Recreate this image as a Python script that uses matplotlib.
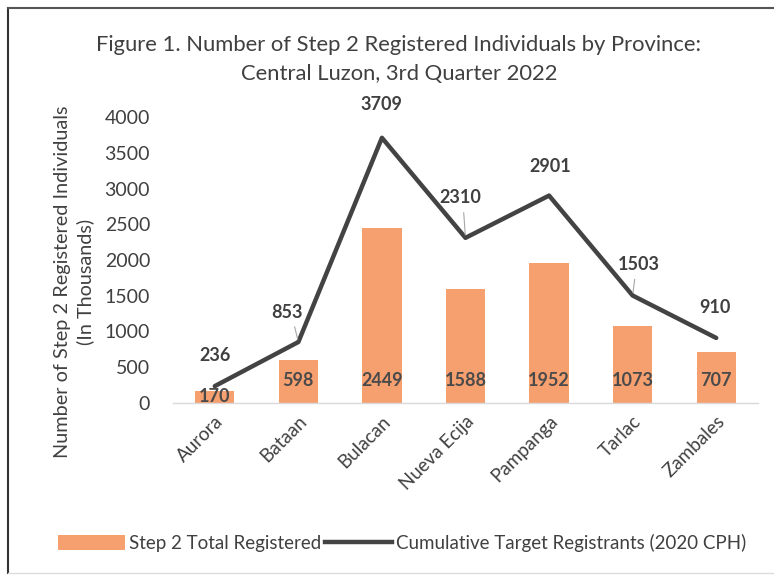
import matplotlib
matplotlib.use("Agg")
import matplotlib.pyplot as plt
from matplotlib.lines import Line2D
from matplotlib.patches import Patch
import numpy as np

provinces = ["Aurora", "Bataan", "Bulacan", "Nueva Ecija", "Pampanga", "Tarlac", "Zambales"]
registered = [170, 598, 2449, 1588, 1952, 1073, 707]
target = [236, 853, 3709, 2310, 2901, 1503, 910]
yticks = [0, 500, 1000, 1500, 2000, 2500, 3000, 3500, 4000]

plt.rcParams['font.family'] = ['Lato', 'DejaVu Sans']
W, H = 774, 577
DPI = 100
fig = plt.figure(figsize=(W / DPI, H / DPI), dpi=DPI)
fig.patch.set_facecolor("white")

BAR_C = "#F6A070"
LINE_C = "#434343"
TXT_C = "#404040"

ax = fig.add_axes([173 / W, 1 - 403 / H, (758 - 173) / W, (403 - 117) / H])
x = np.arange(len(provinces))
ax.bar(x, registered, width=0.47, color=BAR_C, zorder=2)
ax.plot(x, target, color=LINE_C, lw=3.2, solid_capstyle="round", zorder=3)

ax.set_xlim(-0.5, len(provinces) - 0.5)
ax.set_ylim(0, 4000)
ax.set_yticks(yticks)
ax.set_yticklabels([str(v) for v in yticks], fontsize=14, color=TXT_C)
ax.set_xticks(x)
ax.set_xticklabels(provinces, rotation=45, ha="right", rotation_mode="anchor",
                   fontsize=13.5, color=TXT_C)
ax.tick_params(axis="both", length=0)
ax.tick_params(axis="y", pad=16.5)
ax.tick_params(axis="x", pad=7)
for s in ["top", "right", "left"]:
    ax.spines[s].set_visible(False)
ax.spines["bottom"].set_color("#d9d9d9")
ax.spines["bottom"].set_linewidth(1)

px = 72 / DPI  # points per pixel

# bar labels near base
for i, v in enumerate(registered):
    off = -6 if i == 0 else -22
    ax.annotate(str(v), xy=(i, 0), xytext=(0, -off * px), textcoords="offset points",
                ha="center", va="center", fontsize=13, fontweight="bold",
                color="#4a4a4a", zorder=4)

# line labels (pixel offsets from the point)
line_offsets = [(0, -31), (-11, -30), (-1, -33), (-5, -40), (1, -29), (6, -31), (-1, -30)]
leaders = [False, True, False, True, False, True, False]
for i, v in enumerate(target):
    dx, dy = line_offsets[i]
    ax.annotate(str(v), xy=(i, v), xytext=(dx * px, -dy * px), textcoords="offset points",
                ha="center", va="center", fontsize=13, fontweight="bold",
                color="#404040", zorder=4)
    if leaders[i]:
        ax.annotate("", xy=(i, v), xytext=(dx * px * 0.4, (-dy - 12) * px),
                    textcoords="offset points",
                    arrowprops=dict(arrowstyle="-", color="#a6a6a6", lw=0.8))

fig.text(399 / W, 1 - 45 / H, "Figure 1. Number of Step 2 Registered Individuals by Province:",
         ha="center", va="center", fontsize=15.8, color=TXT_C)
fig.text(399 / W, 1 - 74 / H, "Central Luzon, 3rd Quarter 2022",
         ha="center", va="center", fontsize=15.8, color=TXT_C)

fig.text(74 / W, 1 - 282 / H, "Number of Step 2 Registered Individuals\n(In Thousands)",
         rotation=90, ha="center", va="center", fontsize=14.3, color=TXT_C,
         linespacing=1.3)

handles = [Patch(facecolor=BAR_C, edgecolor="none"),
           Line2D([0], [0], color=LINE_C, lw=3.2)]
leg = fig.legend(handles, ["Step 2 Total Registered", "Cumulative Target Registrants (2020 CPH)"],
                 loc="center", bbox_to_anchor=(402 / W, 1 - 543 / H), ncol=2, frameon=False,
                 fontsize=13.5, handlelength=3.6, handleheight=0.8, handletextpad=0.2,
                 columnspacing=0.2, labelcolor=TXT_C)

# outer frame
fig.add_artist(Line2D([8 / W, 8 / W], [1 - 8 / H, 1 - 573 / H], color="#333333", lw=1.5,
                      transform=fig.transFigure))
fig.add_artist(Line2D([8 / W, 1], [1 - 8 / H, 1 - 8 / H], color="#555555", lw=1.5,
                      transform=fig.transFigure))
fig.add_artist(Line2D([8 / W, 1], [1 - 573 / H, 1 - 573 / H], color="#dddddd", lw=1,
                      transform=fig.transFigure))

fig.savefig("out.png", dpi=DPI)
